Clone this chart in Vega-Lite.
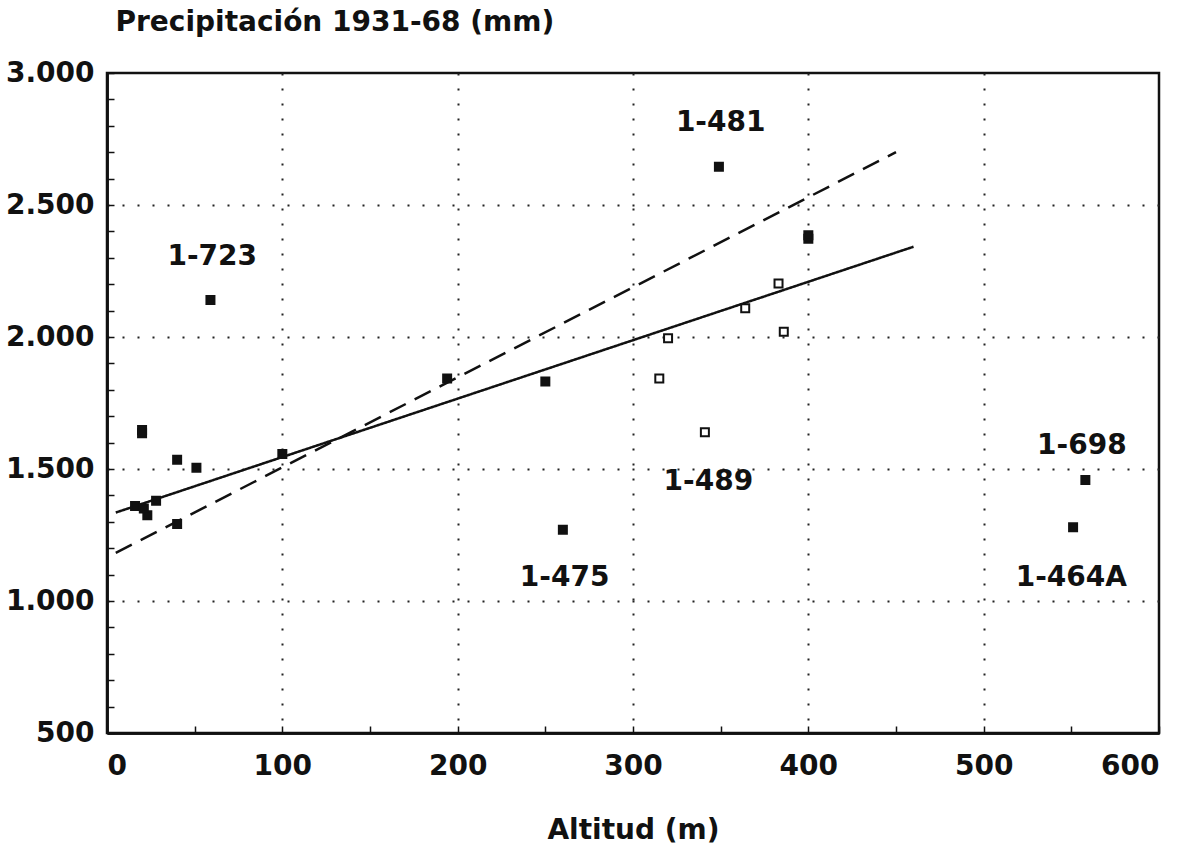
{
  "$schema": "https://vega.github.io/schema/vega-lite/v6.json",
  "width": 1052,
  "height": 660,
  "autosize": {"type": "none"},
  "padding": {"left": 107, "top": 73, "right": 30, "bottom": 115},
  "background": "#ffffff",
  "datasets": {
    "rectas": [
      {"alt": 5, "precip": 1335, "recta": "todas"},
      {"alt": 460, "precip": 2342, "recta": "todas"},
      {"alt": 5, "precip": 1182, "recta": "sin extremos"},
      {"alt": 450, "precip": 2700, "recta": "sin extremos"}
    ],
    "estaciones": [
      {"alt": 20, "precip": 1635, "tipo": "lleno"},
      {"alt": 20, "precip": 1648, "tipo": "lleno"},
      {"alt": 59, "precip": 2140, "tipo": "lleno"},
      {"alt": 40, "precip": 1535, "tipo": "lleno"},
      {"alt": 51, "precip": 1505, "tipo": "lleno"},
      {"alt": 16, "precip": 1360, "tipo": "lleno"},
      {"alt": 21, "precip": 1350, "tipo": "lleno"},
      {"alt": 23, "precip": 1325, "tipo": "lleno"},
      {"alt": 28, "precip": 1380, "tipo": "lleno"},
      {"alt": 40, "precip": 1292, "tipo": "lleno"},
      {"alt": 100, "precip": 1557, "tipo": "lleno"},
      {"alt": 194, "precip": 1843, "tipo": "lleno"},
      {"alt": 250, "precip": 1831, "tipo": "lleno"},
      {"alt": 260, "precip": 1270, "tipo": "lleno"},
      {"alt": 349, "precip": 2645, "tipo": "lleno"},
      {"alt": 400, "precip": 2372, "tipo": "lleno"},
      {"alt": 400, "precip": 2385, "tipo": "lleno"},
      {"alt": 383, "precip": 2203, "tipo": "hueco"},
      {"alt": 364, "precip": 2109, "tipo": "hueco"},
      {"alt": 386, "precip": 2020, "tipo": "hueco"},
      {"alt": 320, "precip": 1995, "tipo": "hueco"},
      {"alt": 315, "precip": 1843, "tipo": "hueco"},
      {"alt": 341, "precip": 1639, "tipo": "hueco"},
      {"alt": 558, "precip": 1458, "tipo": "lleno"},
      {"alt": 551, "precip": 1279, "tipo": "lleno"}
    ],
    "etiquetas": [
      {"alt": 60, "precip": 2303, "nombre": "1-723"},
      {"alt": 350, "precip": 2811, "nombre": "1-481"},
      {"alt": 343, "precip": 1451, "nombre": "1-489"},
      {"alt": 261, "precip": 1087, "nombre": "1-475"},
      {"alt": 556, "precip": 1587, "nombre": "1-698"},
      {"alt": 550, "precip": 1087, "nombre": "1-464A"}
    ]
  },
  "resolve": {"axis": {"x": "independent", "y": "independent"}},
  "layer": [
    {
      "data": {"name": "rectas"},
      "mark": {"type": "line", "color": "#111", "strokeWidth": 2.5},
      "encoding": {
        "x": {
          "field": "alt",
          "type": "quantitative",
          "scale": {"domain": [0, 600], "nice": false},
          "axis": {
            "orient": "bottom",
            "values": [0, 100, 200, 300, 400, 500, 600],
            "ticks": false,
            "labelPadding": 19,
            "labelFontSize": 28,
            "grid": true,
            "gridOpacity": {
              "condition": {"test": "datum.value > 0 && datum.value < 600", "value": 1},
              "value": 0
            },
            "title": "Altitud (m)",
            "titleY": 97,
            "titleBaseline": "middle"
          }
        },
        "y": {
          "field": "precip",
          "type": "quantitative",
          "scale": {"domain": [500, 3000], "nice": false},
          "axis": {
            "orient": "left",
            "values": [500, 1000, 1500, 2000, 2500, 3000],
            "labelExpr": "replace(format(datum.value, ','), ',', '.')",
            "ticks": false,
            "labelPadding": 13,
            "labelFontSize": 28,
            "grid": true,
            "gridOpacity": {
              "condition": {"test": "datum.value > 500 && datum.value < 3000", "value": 1},
              "value": 0
            },
            "title": "Precipitación 1931-68 (mm)",
            "titleAngle": 0,
            "titleAlign": "left",
            "titleBaseline": "middle",
            "titleX": 8,
            "titleY": -51
          }
        },
        "strokeDash": {
          "field": "recta",
          "type": "nominal",
          "scale": {"domain": ["todas", "sin extremos"], "range": [[1, 0], [18, 10]]},
          "legend": null
        }
      }
    },
    {
      "data": {"name": "estaciones"},
      "mark": {"type": "point", "shape": "square", "filled": true, "stroke": "#111", "strokeWidth": 2, "opacity": 1},
      "encoding": {
        "x": {
          "field": "alt",
          "type": "quantitative",
          "axis": {
            "orient": "bottom",
            "values": [0, 50, 100, 150, 200, 250, 300, 350, 400, 450, 500, 550, 600],
            "labels": false,
            "tickSize": -7,
            "grid": false,
            "domain": true,
            "title": null
          }
        },
        "y": {
          "field": "precip",
          "type": "quantitative",
          "axis": {
            "orient": "left",
            "values": [500, 600, 700, 800, 900, 1000, 1100, 1200, 1300, 1400, 1500, 1600, 1700, 1800, 1900, 2000, 2100, 2200, 2300, 2400, 2500, 2600, 2700, 2800, 2900, 3000],
            "labels": false,
            "tickSize": -7,
            "grid": false,
            "domain": true,
            "title": null
          }
        },
        "fill": {
          "field": "tipo",
          "type": "nominal",
          "scale": {"domain": ["lleno", "hueco"], "range": ["#111", "#ffffff"]},
          "legend": null
        },
        "size": {"value": 64}
      }
    },
    {
      "data": {"name": "etiquetas"},
      "mark": {"type": "text", "font": "DejaVu Sans", "fontWeight": "bold", "fontSize": 28, "color": "#111", "align": "center", "baseline": "middle"},
      "encoding": {
        "x": {"field": "alt", "type": "quantitative", "axis": null},
        "y": {"field": "precip", "type": "quantitative", "axis": null},
        "text": {"field": "nombre", "type": "nominal"}
      }
    }
  ],
  "config": {
    "font": "DejaVu Sans",
    "view": {"stroke": "#111", "strokeWidth": 2.5},
    "axis": {
      "domainColor": "#111",
      "domainWidth": 2.5,
      "tickColor": "#111",
      "tickWidth": 1.5,
      "gridColor": "#222",
      "gridWidth": 2,
      "gridDash": [2, 13],
      "labelFont": "DejaVu Sans",
      "labelFontWeight": "bold",
      "labelColor": "#111",
      "labelOverlap": false,
      "titleFont": "DejaVu Sans",
      "titleFontWeight": "bold",
      "titleFontSize": 28,
      "titleColor": "#111"
    }
  }
}
